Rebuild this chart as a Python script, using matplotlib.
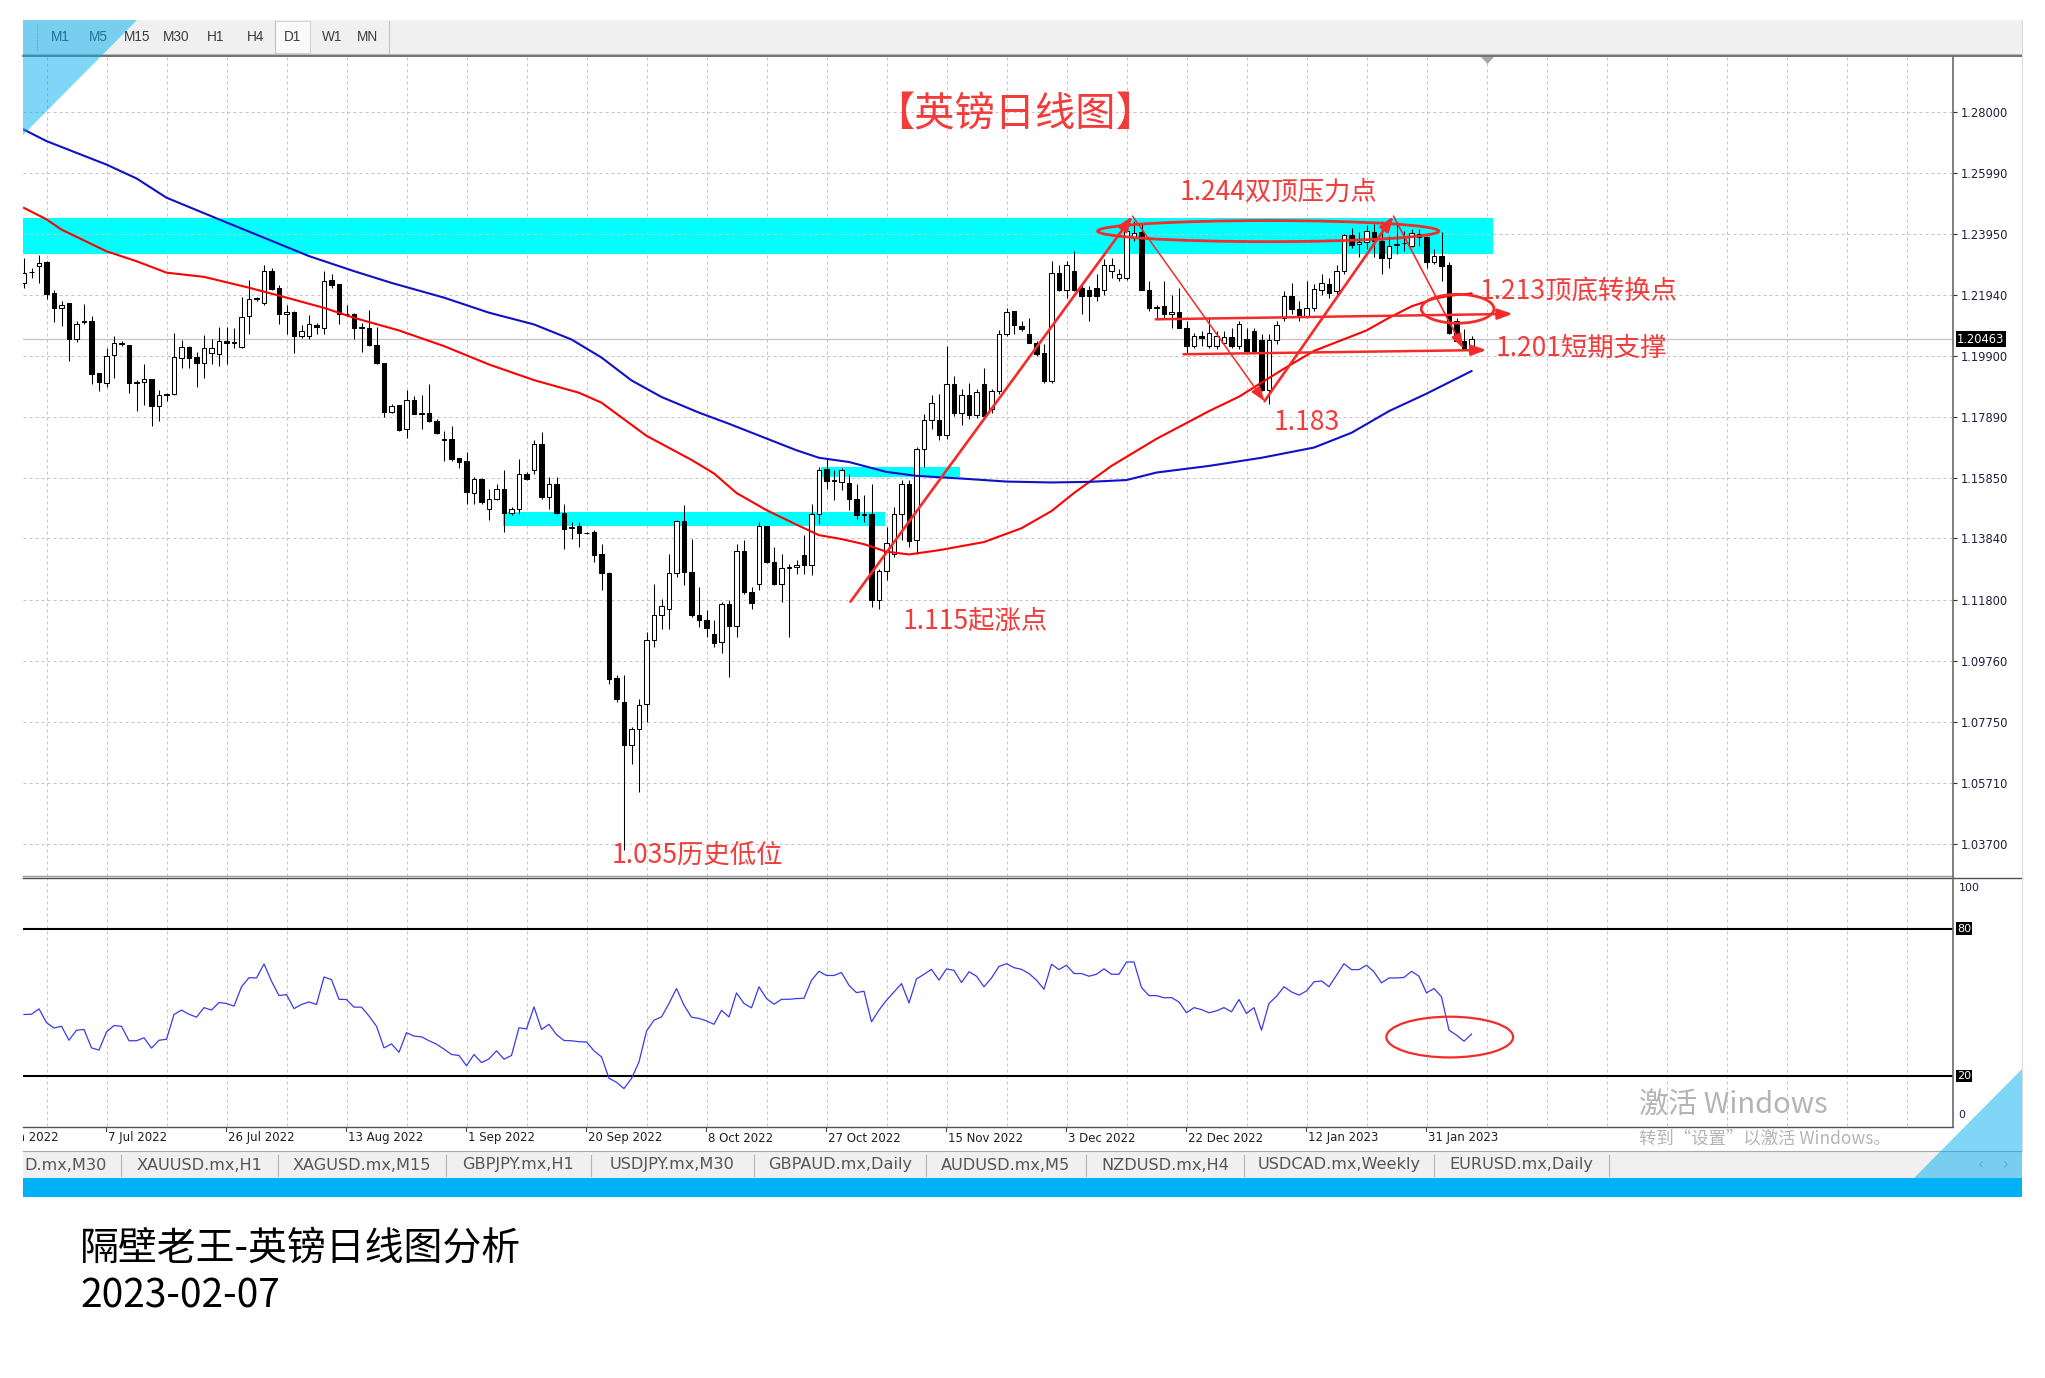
import numpy as np
import matplotlib
matplotlib.use("Agg")
import matplotlib.pyplot as plt
from matplotlib import font_manager
from matplotlib.patches import Rectangle, Ellipse, Polygon, FancyArrowPatch
from matplotlib.transforms import Bbox, TransformedBbox

# ---------------------------------------------------------------- data
opens = [
    1.2234, 1.2270, 1.2289, 1.2302, 1.2198, 1.2151, 1.2165, 1.2046, 1.2104, 1.2106,
    1.1932, 1.1901, 1.1993, 1.2032, 1.2025, 1.1902, 1.1904, 1.1915, 1.1824, 1.1862,
    1.1863, 1.1984, 1.2020, 1.1987, 1.1968, 1.2000, 1.1996, 1.2040, 1.2034, 1.2021,
    1.2123, 1.2180, 1.2165, 1.2272, 1.2217, 1.2128, 1.2137, 1.2056, 1.2056, 1.2093,
    1.2084, 1.2242, 1.2228, 1.2128, 1.2128, 1.2084, 1.2084, 1.2025, 1.1966, 1.1805,
    1.1826, 1.1747, 1.1844, 1.1799, 1.1800, 1.1774, 1.1712, 1.1715, 1.1650, 1.1641,
    1.1535, 1.1580, 1.1483, 1.1516, 1.1549, 1.1470, 1.1483, 1.1597, 1.1610, 1.1697,
    1.1522, 1.1564, 1.1468, 1.1420, 1.1427, 1.1402, 1.1406, 1.1331, 1.1269, 1.0920,
    1.0841, 1.0697, 1.0752, 1.0833, 1.1046, 1.1131, 1.1151, 1.1270, 1.1442, 1.1273,
    1.1131, 1.1114, 1.1068, 1.1040, 1.1165, 1.1092, 1.1342, 1.1206, 1.1232, 1.1425,
    1.1306, 1.1232, 1.1287, 1.1289, 1.1330, 1.1295, 1.1466, 1.1616, 1.1577, 1.1572,
    1.1568, 1.1516, 1.1461, 1.1466, 1.1181, 1.1276, 1.1333, 1.1466, 1.1564, 1.1378,
    1.1680, 1.1776, 1.1776, 1.1729, 1.1898, 1.1800, 1.1860, 1.1795, 1.1896, 1.1813,
    1.1874, 1.2062, 1.2139, 1.2090, 1.2062, 1.2034, 1.1999, 1.1907, 1.2267, 1.2211,
    1.2274, 1.2217, 1.2210, 1.2217, 1.2211, 1.2272, 1.2250, 1.2250, 1.2385, 1.2402,
    1.2211, 1.2150, 1.2156, 1.2130, 1.2136, 1.2084, 1.2023, 1.2056, 1.2023, 1.2023,
    1.2034, 1.2053, 1.2023, 1.2045, 1.2073, 1.2042, 1.1878, 1.2042, 1.2117, 1.2188,
    1.2145, 1.2123, 1.2150, 1.2211, 1.2228, 1.2206, 1.2274, 1.2393, 1.2362, 1.2368,
    1.2401, 1.2373, 1.2315, 1.2360, 1.2364, 1.2357, 1.2384, 1.2384, 1.2301, 1.2323,
    1.2293, 1.2107, 1.2040, 1.2018]

highs = [
    1.2316, 1.2283, 1.2327, 1.2305, 1.2211, 1.2173, 1.2167, 1.2106, 1.2164, 1.2122,
    1.1934, 1.2018, 1.2057, 1.2040, 1.2025, 1.1912, 1.1962, 1.1915, 1.1876, 1.1868,
    1.2065, 1.2042, 1.2024, 1.2004, 1.2059, 1.2045, 1.2086, 1.2086, 1.2084, 1.2185,
    1.2244, 1.2186, 1.2291, 1.2283, 1.2225, 1.2161, 1.2139, 1.2093, 1.2126, 1.2101,
    1.2272, 1.2261, 1.2230, 1.2161, 1.2134, 1.2101, 1.2142, 1.2086, 1.1968, 1.1832,
    1.1827, 1.1876, 1.1857, 1.1860, 1.1898, 1.1780, 1.1741, 1.1758, 1.1650, 1.1671,
    1.1588, 1.1586, 1.1549, 1.1566, 1.1610, 1.1489, 1.1649, 1.1604, 1.1710, 1.1738,
    1.1588, 1.1588, 1.1500, 1.1439, 1.1439, 1.1406, 1.1411, 1.1367, 1.1273, 1.0929,
    1.0929, 1.0758, 1.0852, 1.1073, 1.1233, 1.1184, 1.1333, 1.1444, 1.1494, 1.1383,
    1.1223, 1.1145, 1.1112, 1.1173, 1.1179, 1.1367, 1.1378, 1.1223, 1.1439, 1.1427,
    1.1356, 1.1333, 1.1300, 1.1311, 1.1394, 1.1500, 1.1621, 1.1652, 1.1610, 1.1619,
    1.1599, 1.1566, 1.1527, 1.1566, 1.1284, 1.1422, 1.1489, 1.1577, 1.1577, 1.1688,
    1.1799, 1.1860, 1.1865, 1.2023, 1.1925, 1.1880, 1.1900, 1.1880, 1.1951, 1.1880,
    1.2075, 1.2150, 1.2141, 1.2106, 1.2117, 1.2040, 1.2029, 1.2305, 1.2294, 1.2305,
    1.2339, 1.2228, 1.2222, 1.2261, 1.2311, 1.2317, 1.2278, 1.2420, 1.2440, 1.2430,
    1.2239, 1.2161, 1.2239, 1.2194, 1.2217, 1.2106, 1.2067, 1.2073, 1.2117, 1.2073,
    1.2073, 1.2084, 1.2106, 1.2084, 1.2084, 1.2062, 1.2062, 1.2106, 1.2206, 1.2233,
    1.2173, 1.2239, 1.2228, 1.2261, 1.2250, 1.2294, 1.2394, 1.2416, 1.2401, 1.2425,
    1.2430, 1.2440, 1.2390, 1.2435, 1.2407, 1.2412, 1.2412, 1.2390, 1.2346, 1.2401,
    1.2301, 1.2118, 1.2079, 1.2057]

lows = [
    1.2217, 1.2250, 1.2234, 1.2181, 1.2104, 1.2090, 1.1973, 1.2038, 1.2097, 1.1896,
    1.1874, 1.1888, 1.1918, 1.2023, 1.1868, 1.1808, 1.1828, 1.1758, 1.1774, 1.1841,
    1.1861, 1.1951, 1.1951, 1.1887, 1.1916, 1.1962, 1.1957, 1.1962, 1.2018, 1.2018,
    1.2062, 1.2173, 1.2159, 1.2209, 1.2098, 1.2062, 1.2001, 1.2051, 1.2047, 1.2062,
    1.2062, 1.2217, 1.2097, 1.2123, 1.2047, 1.2004, 1.2023, 1.1962, 1.1789, 1.1802,
    1.1741, 1.1717, 1.1797, 1.1747, 1.1772, 1.1732, 1.1641, 1.1641, 1.1619, 1.1500,
    1.1500, 1.1498, 1.1444, 1.1511, 1.1406, 1.1461, 1.1466, 1.1577, 1.1599, 1.1516,
    1.1483, 1.1466, 1.1350, 1.1383, 1.1356, 1.1398, 1.1306, 1.1212, 1.0899, 1.0841,
    1.0350, 1.0636, 1.0542, 1.0774, 1.1024, 1.1084, 1.1084, 1.1256, 1.1228, 1.1123,
    1.1090, 1.1057, 1.1024, 1.1002, 1.0924, 1.1057, 1.1201, 1.1151, 1.1212, 1.1302,
    1.1228, 1.1173, 1.1057, 1.1267, 1.1267, 1.1261, 1.1433, 1.1549, 1.1511, 1.1544,
    1.1477, 1.1450, 1.1439, 1.1156, 1.1150, 1.1245, 1.1322, 1.1378, 1.1356, 1.1333,
    1.1621, 1.1749, 1.1710, 1.1716, 1.1790, 1.1760, 1.1780, 1.1785, 1.1786, 1.1800,
    1.1863, 1.2056, 1.2062, 1.2073, 1.2034, 1.1990, 1.1902, 1.1899, 1.2206, 1.2183,
    1.2206, 1.2128, 1.2106, 1.2173, 1.2194, 1.2250, 1.2239, 1.2244, 1.2372, 1.2211,
    1.2139, 1.2112, 1.2117, 1.2084, 1.2084, 1.1996, 1.2018, 1.2023, 1.2018, 1.2012,
    1.2029, 1.2018, 1.2012, 1.1996, 1.1996, 1.1874, 1.1830, 1.2029, 1.2106, 1.2128,
    1.2106, 1.2117, 1.2139, 1.2194, 1.2183, 1.2194, 1.2261, 1.2350, 1.2318, 1.2346,
    1.2318, 1.2262, 1.2282, 1.2329, 1.2340, 1.2351, 1.2357, 1.2282, 1.2296, 1.2240,
    1.2063, 1.2035, 1.2010, 1.2013]

closes = [
    1.2267, 1.2268, 1.2300, 1.2197, 1.2151, 1.2161, 1.2046, 1.2095, 1.2106, 1.1931,
    1.1903, 1.1990, 1.2032, 1.2031, 1.1901, 1.1904, 1.1915, 1.1824, 1.1859, 1.1865,
    1.1987, 1.2020, 1.1984, 1.1968, 1.2018, 1.2018, 1.2040, 1.2034, 1.2035, 1.2119,
    1.2180, 1.2181, 1.2272, 1.2213, 1.2128, 1.2137, 1.2056, 1.2073, 1.2095, 1.2087,
    1.2239, 1.2225, 1.2128, 1.2129, 1.2084, 1.2085, 1.2025, 1.1966, 1.1805, 1.1824,
    1.1744, 1.1843, 1.1799, 1.1801, 1.1774, 1.1733, 1.1713, 1.1649, 1.1639, 1.1538,
    1.1580, 1.1505, 1.1516, 1.1549, 1.1470, 1.1483, 1.1597, 1.1583, 1.1699, 1.1522,
    1.1564, 1.1470, 1.1417, 1.1422, 1.1402, 1.1401, 1.1330, 1.1269, 1.0918, 1.0850,
    1.0697, 1.0752, 1.0830, 1.1046, 1.1131, 1.1159, 1.1270, 1.1442, 1.1273, 1.1129,
    1.1114, 1.1087, 1.1038, 1.1165, 1.1092, 1.1342, 1.1206, 1.1170, 1.1425, 1.1306,
    1.1232, 1.1286, 1.1289, 1.1297, 1.1295, 1.1466, 1.1613, 1.1575, 1.1576, 1.1610,
    1.1516, 1.1461, 1.1464, 1.1181, 1.1276, 1.1369, 1.1464, 1.1564, 1.1374, 1.1680,
    1.1776, 1.1834, 1.1729, 1.1898, 1.1800, 1.1860, 1.1795, 1.1870, 1.1791, 1.1874,
    1.2062, 1.2136, 1.2093, 1.2079, 1.2034, 1.1996, 1.1907, 1.2267, 1.2211, 1.2291,
    1.2211, 1.2188, 1.2188, 1.2190, 1.2291, 1.2294, 1.2261, 1.2405, 1.2399, 1.2211,
    1.2150, 1.2152, 1.2128, 1.2136, 1.2084, 1.2023, 1.2056, 1.2049, 1.2065, 1.2056,
    1.2053, 1.2023, 1.2095, 1.2007, 1.2007, 1.1878, 1.2042, 1.2093, 1.2188, 1.2145,
    1.2123, 1.2150, 1.2213, 1.2233, 1.2200, 1.2274, 1.2391, 1.2358, 1.2370, 1.2404,
    1.2373, 1.2315, 1.2357, 1.2362, 1.2366, 1.2398, 1.2396, 1.2301, 1.2323, 1.2290,
    1.2068, 1.2040, 1.2013, 1.20463]

# moving averages (bar index, value)
red_ma_idx = [0, 3, 5, 11, 15, 19, 24, 30, 35, 40, 44, 50, 56, 62, 68, 74, 77, 80,
              83, 86, 89, 92, 95, 99, 103, 106, 109, 112, 115, 118, 122, 128, 133,
              137, 140, 145, 151, 158, 162, 168, 172, 179, 182, 185, 188, 190, 193]
red_ma_val = [1.2482, 1.2444, 1.2410, 1.2338, 1.2305, 1.2267, 1.2253, 1.2217, 1.2184,
              1.2150, 1.2117, 1.2075, 1.2023, 1.1962, 1.1910, 1.1868, 1.1835, 1.1780,
              1.1725, 1.1685, 1.1645, 1.1600, 1.1535, 1.1478, 1.1430, 1.1395, 1.1382,
              1.1365, 1.1340, 1.1331, 1.1345, 1.1372, 1.1418, 1.1475, 1.1535, 1.1625,
              1.1715, 1.1807, 1.1855, 1.1948, 1.2007, 1.2075, 1.2117, 1.2155, 1.2180,
              1.2190, 1.2198]
blue_ma_idx = [0, 3, 11, 15, 19, 26, 32, 38, 44, 49, 56, 62, 68, 73, 77, 81, 85, 90,
               94, 99, 103, 106, 110, 115, 119, 125, 131, 137, 142, 147, 151, 158,
               165, 172, 177, 182, 187, 193]
blue_ma_val = [1.2742, 1.2704, 1.2626, 1.2580, 1.2516, 1.2444, 1.2383, 1.2322, 1.2272,
               1.2233, 1.2184, 1.2134, 1.2095, 1.2045, 1.1985, 1.1909, 1.1854, 1.1802,
               1.1765, 1.1716, 1.1677, 1.1652, 1.1638, 1.1605, 1.1592, 1.1583, 1.1573,
               1.1570, 1.1572, 1.1578, 1.1603, 1.1625, 1.1652, 1.1686, 1.1735, 1.1807,
               1.1865, 1.1940]

rsi = [
    45.0, 45.1, 47.3, 41.7, 39.5, 40.2, 34.5, 38.6, 38.9, 31.4,
    30.5, 37.9, 40.5, 40.2, 34.3, 34.3, 35.5, 31.3, 34.5, 34.9,
    45.0, 46.8, 45.1, 43.9, 47.8, 46.8, 49.9, 49.5, 48.4, 56.3,
    60.0, 59.9, 65.6, 58.6, 52.7, 53.1, 47.4, 49.1, 50.1, 49.1,
    60.3, 59.2, 51.2, 51.1, 48.0, 48.0, 44.4, 40.2, 31.4, 33.0,
    29.6, 37.6, 36.2, 35.9, 34.3, 32.9, 30.9, 28.7, 28.3, 24.1,
    28.7, 25.4, 26.9, 30.2, 26.8, 28.3, 39.6, 39.1, 48.1, 38.9,
    41.0, 36.8, 34.4, 34.3, 33.9, 33.8, 30.2, 27.7, 19.0, 17.4,
    14.8, 18.9, 25.7, 38.2, 42.7, 44.0, 49.5, 55.6, 48.8, 43.9,
    43.4, 42.4, 41.0, 46.7, 44.0, 53.8, 49.5, 47.7, 56.3, 51.5,
    49.2, 51.2, 51.2, 51.5, 51.6, 59.0, 62.6, 60.9, 60.9, 62.1,
    56.9, 53.9, 54.5, 42.0, 46.8, 50.8, 54.2, 57.6, 49.7, 59.5,
    61.4, 63.4, 59.0, 63.6, 63.0, 58.0, 62.4, 60.6, 56.3, 59.9,
    64.6, 65.7, 64.1, 63.4, 61.7, 59.0, 55.3, 65.5, 63.3, 65.1,
    61.7, 61.7, 60.6, 61.4, 63.6, 61.4, 61.4, 66.4, 66.4, 56.0,
    52.7, 52.7, 51.8, 51.9, 50.1, 45.7, 47.8, 47.0, 45.7, 46.5,
    47.8, 46.1, 51.1, 45.4, 47.8, 38.6, 49.5, 52.4, 56.3, 54.2,
    52.9, 54.6, 58.3, 58.7, 56.3, 61.0, 65.7, 63.3, 63.3, 65.1,
    62.4, 57.9, 59.9, 59.9, 60.1, 62.6, 60.6, 53.8, 55.6, 52.2,
    38.6, 36.6, 34.1, 37.0]

price_ticks = [1.28000, 1.25990, 1.23950, 1.21940, 1.19900, 1.17890, 1.15850,
               1.13840, 1.11800, 1.09760, 1.07750, 1.05710, 1.03700]
last_price = 1.20463
rsi_levels = [80, 20]

date_tick_bars = [-5, 11, 27, 43, 59, 75, 91, 107, 123, 139, 155, 171, 187]
date_labels = ["20 Jun 2022", "7 Jul 2022", "26 Jul 2022", "13 Aug 2022",
               "1 Sep 2022", "20 Sep 2022", "8 Oct 2022", "27 Oct 2022",
               "15 Nov 2022", "3 Dec 2022", "22 Dec 2022", "12 Jan 2023",
               "31 Jan 2023"]

timeframes = ["M1", "M5", "M15", "M30", "H1", "H4", "D1", "W1", "MN"]
tab_names = ["D.mx,M30", "XAUUSD.mx,H1", "XAGUSD.mx,M15", "GBPJPY.mx,H1",
             "USDJPY.mx,M30", "GBPAUD.mx,Daily", "AUDUSD.mx,M5", "NZDUSD.mx,H4",
             "USDCAD.mx,Weekly", "EURUSD.mx,Daily"]

# support / resistance zones: (first bar, last bar, low, high)
zones = [(-2, 195.9, 1.2328, 1.2450),
         (63.9, 114.8, 1.14264, 1.14729),
         (106.3, 124.8, 1.15892, 1.16224)]

# ---------------------------------------------------------------- helpers
W, H, DPI = 2045, 1378, 100
BAR0_PX, BAR_W = 24.0, 7.5            # pixel x of bar 0, bar spacing
P_REF, Y_REF, PX_PER_UNIT = 1.28, 112.2, 3010.3
RSI_Y0, RSI_PX = 1124.9, 2.4533      # pixel y of RSI 0, pixels per RSI unit


def pick_font(*names):
    for n in names:
        try:
            font_manager.findfont(font_manager.FontProperties(family=n),
                                  fallback_to_default=False)
            return n
        except Exception:
            continue
    return "DejaVu Sans"


NARROW = pick_font("Liberation Sans Narrow")
HAVE_NARROW = NARROW == "Liberation Sans Narrow"
UI = pick_font("Liberation Sans", "DejaVu Sans")
CJK = ["Noto Sans CJK SC", "DejaVu Sans"]
RED_TXT = "#f23c3c"
RED_LN = "#f52a2a"


def price_px(p):
    return Y_REF + (P_REF - p) * PX_PER_UNIT


def bar_px(i):
    return BAR0_PX + BAR_W * i


def frac(x0, y0, x1, y1):
    return [x0 / W, 1 - y1 / H, (x1 - x0) / W, (y1 - y0) / H]


xlim = ((23 - BAR0_PX) / BAR_W, (1953 - BAR0_PX) / BAR_W)
ylim = (P_REF - (876 - Y_REF) / PX_PER_UNIT, P_REF + (Y_REF - 57) / PX_PER_UNIT)

fig = plt.figure(figsize=(W / DPI, H / DPI), dpi=DPI, facecolor="white")

bg = fig.add_axes([0, 0, 1, 1], zorder=0)
bg.set_xlim(0, W); bg.set_ylim(H, 0); bg.axis("off")

ax = fig.add_axes(frac(23, 57, 1953, 876), zorder=1)
rax = fig.add_axes(frac(23, 878, 1953, 1126), zorder=1)

fg = fig.add_axes([0, 0, 1, 1], zorder=5)
fg.set_xlim(0, W); fg.set_ylim(H, 0); fg.axis("off")

# ---------------------------------------------------------------- window chrome
bg.add_patch(Rectangle((23, 20), 1999, 34, fc="#f0f0f0", ec="none"))
bg.plot([23, 2022], [54, 54], color="#b8b8b8", lw=0.8)
bg.plot([23, 2022], [56, 56], color="#5a5a5a", lw=1.2)
bg.add_patch(Rectangle((275, 21), 35, 32, fc="#fafafa", ec="#d4d4d4", lw=0.8))
for sx in (275, 389):
    bg.plot([sx, sx], [21, 53], color="#c4c4c4", lw=0.8)
bg.plot([37, 37], [24, 50], color="#a0a0a0", lw=0.8, ls=(0, (1, 1)))
for name, tx in zip(timeframes, [60, 98, 137, 176, 216, 256, 293, 332, 368]):
    bg.text(tx, 37, name, ha="center", va="center", fontsize=9.8,
            family=UI, color="#3c3c3c")

bg.add_patch(Rectangle((23, 1151), 1999, 27, fc="#f0f0f0", ec="none"))
bg.plot([23, 2022], [1151, 1151], color="#a8a8a8", lw=0.8)
tab_seps = [121, 278, 446, 591, 754, 926, 1086, 1244, 1434, 1609]
for sx in tab_seps:
    bg.plot([sx, sx], [1155, 1176], color="#b4b4b4", lw=0.8)
tab_fs = 14.5 if HAVE_NARROW else 11.6
bg.text(24, 1165, tab_names[0], ha="left", va="center", fontsize=tab_fs,
        family=NARROW, color="#555555")
for k, name in enumerate(tab_names[1:]):
    cx = (tab_seps[k] + tab_seps[k + 1]) / 2
    bg.text(cx, 1165, name, ha="center", va="center", fontsize=tab_fs,
            family=NARROW, color="#555555")
bg.text(1981, 1165, "‹", ha="center", va="center", fontsize=11, color="#b0b0b0")
bg.text(2006, 1165, "›", ha="center", va="center", fontsize=11, color="#b0b0b0")
bg.add_patch(Rectangle((23, 1178), 1999, 19, fc="#00b2f5", ec="none"))

# ---------------------------------------------------------------- main price panel
ax.set_facecolor("white")
ax.set_xlim(*xlim)
ax.set_ylim(*ylim)
for sp in ax.spines.values():
    sp.set_visible(False)
ax.tick_params(axis="x", bottom=False, labelbottom=False)
ax.yaxis.tick_right()
ax.set_yticks(price_ticks)
ax.set_yticklabels([f"{p:.5f}" for p in price_ticks])
ax.tick_params(axis="y", length=3, width=0.8, color="#303030", pad=2.5,
               labelsize=8.3, labelcolor="#1e1e3c")

grid_bars = np.arange(3, 258, 8)
grid_kw = dict(color="#c4c4c4", lw=0.72, ls=(0, (3, 3)), zorder=1)
for gb in grid_bars:
    ax.axvline(gb, **grid_kw)
    rax.axvline(gb, **grid_kw)
for p in price_ticks:
    ax.axhline(p, **grid_kw)

for b0, b1, lo, hi in zones:
    ax.add_patch(Rectangle((b0, lo), b1 - b0, hi - lo, fc="#00ffff",
                           ec="none", zorder=0.5))

ax.axhline(last_price, color="#c4c4c4", lw=0.9, zorder=1.5)

o = np.array(opens); h = np.array(highs); l = np.array(lows); c = np.array(closes)
idx = np.arange(len(c))
up = c >= o
ax.vlines(idx, l, h, color="black", lw=0.75, zorder=3)
body_lo = np.minimum(o, c)
body_h = np.maximum(np.abs(c - o), 0.00022)
ax.bar(idx[up], body_h[up], bottom=body_lo[up], width=0.62, facecolor="white",
       edgecolor="black", lw=0.75, zorder=4)
ax.bar(idx[~up], body_h[~up], bottom=body_lo[~up], width=0.62, facecolor="black",
       edgecolor="black", lw=0.75, zorder=4)

ax.plot(red_ma_idx, red_ma_val, color="#ff0000", lw=1.5, zorder=5,
        solid_joinstyle="round")
ax.plot(blue_ma_idx, blue_ma_val, color="#1010c8", lw=1.5, zorder=5,
        solid_joinstyle="round")

# ---------------------------------------------------------------- drawings
def arrow(p0, p1, lw):
    ax.add_patch(FancyArrowPatch(
        p0, p1, arrowstyle="-|>,head_length=0.9,head_width=0.32",
        mutation_scale=10, lw=lw, color=RED_LN, shrinkA=0, shrinkB=0,
        zorder=7))


top1, top2 = (147.8, 1.2455), (182.6, 1.2455)
bottom_v = (165.4, 1.1840)
arrow((110.2, 1.1174), top1, 1.9)
arrow(top1, bottom_v, 1.1)
arrow(bottom_v, top2, 1.9)
arrow(top2, (191.9, 1.2015), 1.2)
arrow((150.9, 1.2112), (198.5, 1.2130), 1.8)
arrow((154.6, 1.1996), (195.0, 1.2010), 1.8)

ax.add_patch(Ellipse((165.9, 1.2405), 45.5, 0.0070, fill=False, ec=RED_LN,
                     lw=2.0, zorder=7))
ax.add_patch(Ellipse((191.15, 1.2147), 9.7, 0.0096, fill=False, ec=RED_LN,
                     lw=2.0, zorder=7))

# ---------------------------------------------------------------- RSI panel
rax.set_facecolor("white")
rax.set_xlim(*xlim)
rax.set_ylim(-(1126 - RSI_Y0) / RSI_PX, (RSI_Y0 - 878) / RSI_PX)
for sp in rax.spines.values():
    sp.set_visible(False)
rax.set_xticks([]); rax.set_yticks([])
for lv in rsi_levels:
    rax.axhline(lv, color="black", lw=1.5, zorder=2)
rax.plot(np.arange(len(rsi)), rsi, color="#3a3ae8", lw=0.9, zorder=3)
rax.add_patch(Ellipse((190.1, 35.8), 16.9, 16.6, fill=False, ec=RED_LN,
                      lw=1.6, zorder=6))

# ---------------------------------------------------------------- frame & scale labels
fg.plot([23, 1953], [876.3, 876.3], color="#9a9a9a", lw=1.0)
fg.plot([23, 2022], [878.3, 878.3], color="#505050", lw=1.0)
fg.plot([23, 1953], [1126.5, 1126.5], color="#505050", lw=1.0)
fg.plot([1953.5, 1953.5], [57, 1127], color="#6a6a6a", lw=1.2)
fg.plot([2022, 2022], [20, 1151], color="#dcdcdc", lw=0.8)
fg.add_patch(Polygon([(1481, 57), (1494, 57), (1487.5, 64)], closed=True,
                     fc="#a8a8a8", ec="none"))

y_last = price_px(last_price)
fg.text(1957, y_last, f"{last_price:.5f}", ha="left", va="center",
        fontsize=8.3, color="white",
        bbox=dict(boxstyle="square,pad=0.12", fc="black", ec="none"))

rsi_fs = 10.5 if HAVE_NARROW else 8
fg.text(1959, 888, "100", ha="left", va="center", fontsize=rsi_fs,
        family=NARROW, color="#1e1e3c")
fg.text(1958, 1115, "0", ha="left", va="center", fontsize=rsi_fs,
        family=NARROW, color="#1e1e3c")
for lv in rsi_levels:
    fg.text(1957, RSI_Y0 - lv * RSI_PX, str(lv), ha="left", va="center",
            fontsize=rsi_fs, family=NARROW, color="white",
            bbox=dict(boxstyle="square,pad=0.12", fc="black", ec="none"))

date_fs = 11.4 if HAVE_NARROW else 8.5
date_clip = TransformedBbox(Bbox.from_extents(23 / W, 0, 1, 1), fig.transFigure)
for b, lab in zip(date_tick_bars, date_labels):
    x = bar_px(b)
    if x > 23:
        fg.plot([x, x], [1126.5, 1131], color="#404040", lw=0.8)
    t = fg.text(x + 1.5, 1138, lab, ha="left", va="center", fontsize=date_fs,
                family=NARROW, color="#1e1e1e")
    t.set_clip_box(date_clip)
    t.set_clip_on(True)

# ---------------------------------------------------------------- annotation texts
fg.text(1015, 115, "【英镑日线图】", ha="center", va="center", fontsize=29,
        family=CJK, color=RED_TXT)
ann_kw = dict(ha="left", va="center", fontsize=19, family=CJK, color=RED_TXT)
fg.text(1180, 192, "1.244双顶压力点", **ann_kw)
fg.text(1480, 291, "1.213顶底转换点", **ann_kw)
fg.text(1496, 348, "1.201短期支撑", **ann_kw)
fg.text(1274, 422, "1.183", **ann_kw)
fg.text(903, 621, "1.115起涨点", **ann_kw)
fg.text(612, 855, "1.035历史低位", **ann_kw)

# system watermark
fg.text(1639, 1106, "激活 Windows", ha="left", va="center", fontsize=21,
        family=CJK, color="#b4b4b4")
fg.text(1639, 1139, "转到“设置”以激活 Windows。", ha="left", va="center",
        fontsize=12.5, family=CJK, color="#b4b4b4")

# corner highlights
fg.add_patch(Polygon([(23, 20), (137, 20), (23, 135)], closed=True,
                     fc="#00aeef", ec="none", alpha=0.5))
fg.add_patch(Polygon([(1914, 1178), (2022, 1069), (2022, 1178)], closed=True,
                     fc="#00aeef", ec="none", alpha=0.5))

# caption below the chart
fg.text(80, 1259, "隔壁老王-英镑日线图分析", ha="left", va="baseline",
        fontsize=28, family=CJK, color="black")
fg.text(80, 1307, "2023-02-07", ha="left", va="baseline", fontsize=28,
        family=CJK, color="black")

fig.savefig("out.png", dpi=DPI, facecolor="white")
